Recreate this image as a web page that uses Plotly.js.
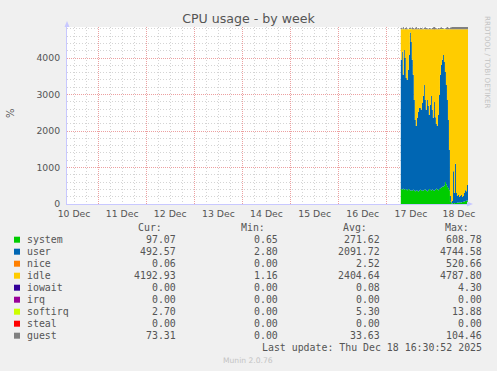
<!DOCTYPE html>
<html><head><meta charset="utf-8">
<script src="https://cdn.plot.ly/plotly-3.0.1.min.js"></script>
<style>html,body{margin:0;padding:0;background:#f0f0f0;} #chart{width:497px;height:371px;}</style>
</head><body><div id="chart"></div>
<script>
// ---- data (30-minute samples, Dec 17 07:00 -> Dec 18 16:30) ----
const seriesStart = '2025-12-17 07:00';
const stepMinutes = 30;
const system = [410,400,420,390,410,400,380,410,400,370,
  380,360,390,370,350,380,360,340,370,390,
  380,360,370,390,400,370,350,380,410,390,
  370,400,380,360,390,420,400,380,410,430,
  450,470,480,510,600,540,470,430,380,60,
  20,15,30,20,25,30,40,35,50,45,
  40,55,60,70,80,90,95,97.07];
const user = [3540,3770,3120,3830,3590,3050,3020,3260,3680,4330,
  4060,3590,3150,2480,1950,1760,2000,2180,2260,2240,
  2200,2410,2590,2870,2450,2210,2500,2310,2030,2320,
  2590,2180,1980,2440,1990,1770,1740,2060,2580,3110,
  3360,3480,3600,3380,3020,2720,2380,1870,1100,160,
  30,65,870,280,1075,270,180,215,140,175,
  210,135,160,230,300,260,425,492.57];
const nice = [0,0,0,0,0,0,0,0,0,0, 0,0,0,0,0,0,0,0,0,0, 0,0,0,0,0,0,0,0,0,0,
  0,0,0,0,0,0,0,0,0,0, 0,0,0,0,0,0,0,0,0,0, 0,0,0,0,0,0,0,0,0,0, 0,0,0,0,0,0,0,0.06];
const idle = [835,615,1245,565,785,1335,1385,1115,705,85,
  345,835,1245,1935,2485,2645,2425,2265,2155,2155,
  2205,2015,1825,1525,1935,2205,1935,2095,2345,2075,
  1825,2205,2425,1985,2405,2595,2645,2345,1795,1245,
  975,835,705,895,1165,1525,1935,2485,3305,4565,
  4735,4705,3885,4485,3685,4485,4565,4535,4595,4565,
  4535,4595,4565,4485,4405,4435,4265,4192.93];
const iowait = [0,0,0,0,0,0,0,0,0,0, 0,0,0,0,0,0,0,0,0,0, 0,0,0,0,0,0,0,0,0,0,
  0,0,0,0,0,0,0,0,0,0, 0,0,0,0,0,0,0,0,0,0, 0,0,0,0,0,0,0,0,0,0, 0,0,0,0,0,0,0,0];
const irq = [0,0,0,0,0,0,0,0,0,0, 0,0,0,0,0,0,0,0,0,0, 0,0,0,0,0,0,0,0,0,0,
  0,0,0,0,0,0,0,0,0,0, 0,0,0,0,0,0,0,0,0,0, 0,0,0,0,0,0,0,0,0,0, 0,0,0,0,0,0,0,0];
const softirq = [6,7,6,7,6,6,5,6,7,8, 7,6,6,5,5,5,5,6,6,6, 6,6,6,7,6,6,6,6,5,6,
  6,6,5,6,5,5,5,5,6,7, 7,7,8,7,7,6,6,5,4,1, 1,1,2,1,2,1,1,1,1,1, 1,1,1,2,2,2,3,2.7];
const steal = [0,0,0,0,0,0,0,0,0,0, 0,0,0,0,0,0,0,0,0,0, 0,0,0,0,0,0,0,0,0,0,
  0,0,0,0,0,0,0,0,0,0, 0,0,0,0,0,0,0,0,0,0, 0,0,0,0,0,0,0,0,0,0, 0,0,0,0,0,0,0,0];
const guest = [40,20,60,10,30,50,20,0,40,30,
  20,50,30,10,40,60,20,30,10,40,
  30,20,10,40,50,30,20,10,30,20,
  10,30,50,60,40,20,10,30,20,40,
  50,30,20,10,20,30,60,40,30,50,
  60,70,80,90,100,80,85,90,95,100,
  90,85,80,95,100,90,85,73.31];

// legend table
const seriesNames = ['system','user','nice','idle','iowait','irq','softirq','steal','guest'];
const seriesColors = ['#00cc00','#0066b3','#ff8000','#ffcc00','#330099','#990099','#ccff00','#ff0000','#808080'];
const curVals = ['97.07','492.57','0.06','4192.93','0.00','0.00','2.70','0.00','73.31'];
const minVals = ['0.65','2.80','0.00','1.16','0.00','0.00','0.00','0.00','0.00'];
const avgVals = ['271.62','2091.72','2.52','2404.64','0.08','0.00','5.30','0.00','33.63'];
const maxVals = ['608.78','4744.58','520.66','4787.80','4.30','0.00','13.88','0.00','104.46'];
const lastUpdate = 'Last update: Thu Dec 18 16:30:52 2025';
const xRange = ['2025-12-10 08:30','2025-12-18 16:30'];

// ---- build ----
const seriesData = [system,user,nice,idle,iowait,irq,softirq,steal,guest];
function fmt(d){ return d.toISOString().slice(0,16).replace('T',' '); }
const t0 = new Date(seriesStart.replace(' ','T')+':00Z').getTime();
const times = system.map((_,i)=>fmt(new Date(t0 + i*stepMinutes*60000)));

const traces = seriesData.map((ys,k)=>({
  type:'scatter', mode:'lines', x:times, y:ys, stackgroup:'one',
  name:seriesNames[k], line:{width:0, shape:'hv', color:seriesColors[k]},
  fillcolor:seriesColors[k], hoverinfo:'skip', showlegend:false
}));

const W=497, Hh=371, L=67, R=468, T=27, B=204;
function px(x){return (x-L)/(R-L);}
function py(y){return (B-y)/(B-T);}

const gray='#555555';
const mono={family:'DejaVu Sans Mono', size:9.9, color:gray};
const ann=[];
const shapes=[];
function txt(text,x,y,anchor,font,extra){
  ann.push(Object.assign({text:text, xref:'paper', yref:'paper', x:px(x), y:py(y),
    xanchor:anchor, yanchor:'middle', showarrow:false, borderpad:0, font:font},extra||{}));
}
// header
txt('Cur:',163,227,'right',mono); txt('Min:',266,227,'right',mono);
txt('Avg:',368,227,'right',mono); txt('Max:',470,227,'right',mono);
seriesNames.forEach((n,i)=>{
  const y=239.7+12*i;
  shapes.push({type:'rect', xref:'paper', yref:'paper', x0:px(14), x1:px(20), y0:py(y+3), y1:py(y-3),
    fillcolor:seriesColors[i], line:{width:0}});
  txt(n,26,y,'left',mono);
  txt(curVals[i],176.5,y,'right',mono);
  txt(minVals[i],278.5,y,'right',mono);
  txt(avgVals[i],380.5,y,'right',mono);
  txt(maxVals[i],482.5,y,'right',mono);
});
txt(lastUpdate,482.5,347.7,'right',mono);
txt('Munin 2.0.76',248,360,'center',{family:'DejaVu Sans',size:7.6,color:'#c4c4c4'});
txt('RRDTOOL / TOBI OETIKER',487,62,'center',{family:'DejaVu Sans',size:7.2,color:'#c4c4c4'},{textangle:90});
txt('%',10,113,'center',{family:'DejaVu Sans',size:10,color:gray},{textangle:-90});

// axis arrows
function P(x,y){return px(x)+','+py(y);}
shapes.push({type:'path', xref:'paper', yref:'paper', path:'M'+P(64.5,27)+' L'+P(69.5,27)+' L'+P(67,21)+' Z',
  fillcolor:'#c8c8ff', line:{width:0}});
shapes.push({type:'path', xref:'paper', yref:'paper', path:'M'+P(467,201.5)+' L'+P(467,206.5)+' L'+P(473,204)+' Z',
  fillcolor:'#c8c8ff', line:{width:0}});

const layout = {
  width:W, height:Hh, margin:{l:L, r:W-R, t:T, b:Hh-B},
  paper_bgcolor:'#f0f0f0', plot_bgcolor:'#ffffff',
  title:{text:'CPU usage - by week', font:{family:'DejaVu Sans', size:12.6, color:gray},
    xref:'container', yref:'container', x:0.5, xanchor:'center', y:1-19/Hh, yanchor:'middle'},
  xaxis:{type:'date', range:xRange, tick0:'2025-12-10', dtick:86400000, ticklabelmode:'period',
    tickformat:'%d %b', tickfont:{family:'DejaVu Sans', size:9.3, color:gray},
    ticklabelstandoff:1,
    showgrid:true, gridcolor:'#eca0a0', griddash:'1px,1px', gridwidth:1,
    showline:true, linecolor:'#c8c8ff', linewidth:1, zeroline:false, ticks:'', fixedrange:true,
    minor:{dtick:21600000, tick0:'2025-12-10', showgrid:true, gridcolor:'#d4d4d4', griddash:'1px,2px', gridwidth:1}},
  yaxis:{range:[0,4850], dtick:1000, tick0:0, tickfont:{family:'DejaVu Sans', size:9.3, color:gray},
    ticklabelstandoff:4,
    showgrid:true, gridcolor:'#eca0a0', griddash:'1px,1px', gridwidth:1,
    showline:true, linecolor:'#c8c8ff', linewidth:1, zeroline:false, ticks:'', fixedrange:true,
    minor:{dtick:200, showgrid:true, gridcolor:'#d4d4d4', griddash:'1px,2px', gridwidth:1}},
  annotations:ann, shapes:shapes, showlegend:false
};
Plotly.newPlot('chart', traces, layout, {staticPlot:true, displayModeBar:false});
</script></body></html>
